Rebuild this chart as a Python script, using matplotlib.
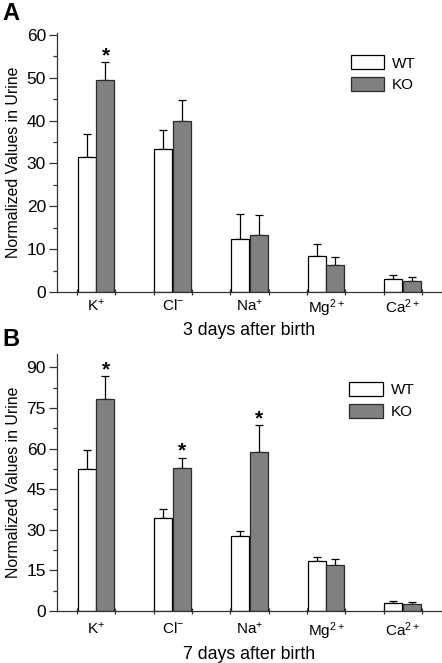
import numpy as np
import matplotlib
matplotlib.use("Agg")
import matplotlib.pyplot as plt
from matplotlib.ticker import MultipleLocator, FixedLocator

plt.rcParams['font.family'] = ['Liberation Sans', 'DejaVu Sans']
plt.rcParams['mathtext.default'] = 'regular'

categories = [r'K$^{+}$', r'Cl$^{-}$', r'Na$^{+}$', r'Mg$^{2+}$', r'Ca$^{2+}$']
series_names = ['WT', 'KO']

# Panel A: 3 days after birth
a_wt = [31.4, 33.4, 12.4, 8.4, 3.0]
a_wt_err = [5.4, 4.4, 5.8, 2.7, 0.9]
a_ko = [49.4, 39.9, 13.4, 6.2, 2.5]
a_ko_err = [4.2, 4.9, 4.6, 2.0, 1.0]
a_star_ko = [True, False, False, False, False]

# Panel B: 7 days after birth
b_wt = [52.4, 34.5, 27.8, 18.3, 2.8]
b_wt_err = [6.9, 3.2, 1.7, 1.8, 0.8]
b_ko = [78.2, 52.7, 58.6, 17.0, 2.5]
b_ko_err = [8.4, 3.9, 9.9, 2.1, 0.7]
b_star_ko = [True, True, True, False, False]

fig = plt.figure(figsize=(4.42, 6.63), dpi=100)

def panel(rect, wt, wterr, ko, koerr, stars, ymax, ystep, xlabel, letter, letter_y,
          leg_anchor, tpad, lpad):
    ax = fig.add_axes(rect)
    x = np.arange(len(categories))
    w = 0.235
    off = 0.122
    ax.bar(x - off, wt, w, color='white', edgecolor='black', linewidth=0.9, label=series_names[0], zorder=2)
    ax.bar(x + off, ko, w, color='#808080', edgecolor='#2a2a2a', linewidth=0.9, label=series_names[1], zorder=2)
    ax.errorbar(x - off, wt, yerr=[np.zeros(len(wt)), wterr], fmt='none', ecolor='black',
                elinewidth=0.9, capsize=2.6, capthick=0.9, zorder=1)
    ax.errorbar(x + off, ko, yerr=[np.zeros(len(ko)), koerr], fmt='none', ecolor='black',
                elinewidth=0.9, capsize=2.6, capthick=0.9, zorder=1)
    for i, s in enumerate(stars):
        if s:
            ax.annotate('*', (x[i] + off, ko[i] + koerr[i]), xytext=(0, -2), textcoords='offset points',
                        ha='center', va='bottom', fontsize=15, fontweight='bold')
    ax.set_xlim(-0.51, 4.5)
    ax.set_ylim(0, ymax)
    ax.spines['top'].set_visible(False)
    ax.spines['right'].set_visible(False)
    for sp in ['left', 'bottom']:
        ax.spines[sp].set_linewidth(0.9)
        ax.spines[sp].set_color('#333333')
    ax.yaxis.set_major_locator(MultipleLocator(ystep))
    ax.yaxis.set_minor_locator(MultipleLocator(ystep / 2))
    ax.tick_params(axis='y', which='major', length=6, width=0.9, color='#333333', labelsize=12.5, pad=2)
    ax.tick_params(axis='y', which='minor', length=3, width=0.9, color='#333333')
    ax.set_xticks(x)
    ax.set_xticklabels(categories)
    ax.xaxis.set_minor_locator(FixedLocator(np.concatenate([x - 0.25, x + 0.25])))
    ax.tick_params(axis='x', which='major', length=0, labelsize=11, pad=tpad)
    ax.tick_params(axis='x', which='minor', length=5, width=0.9, direction='inout', color='#333333')
    ax.set_ylabel('Normalized Values in Urine', fontsize=11.4, labelpad=4)
    ax.set_xlabel(xlabel, fontsize=12.8, labelpad=lpad)
    ax.legend(loc='upper left', bbox_to_anchor=leg_anchor, frameon=False, fontsize=11,
              handlelength=2.2, handleheight=1.0, handletextpad=0.5, labelspacing=0.45,
              borderpad=0, borderaxespad=0)
    fig.text(0.005, letter_y, letter, fontsize=17, fontweight='bold', va='top', ha='left')
    return ax

panel([0.129, 0.5596, 0.869, 0.3899], a_wt, a_wt_err, a_ko, a_ko_err, a_star_ko, 60.3, 10,
      '3 days after birth', 'A', 0.997, (0.765, 0.915), 4, 2)
panel([0.129, 0.0784, 0.869, 0.3877], b_wt, b_wt_err, b_ko, b_ko_err, b_star_ko, 94.9, 15,
      '7 days after birth', 'B', 0.505, (0.761, 0.89), 7, 2.5)

fig.savefig('out.png', dpi=100)
